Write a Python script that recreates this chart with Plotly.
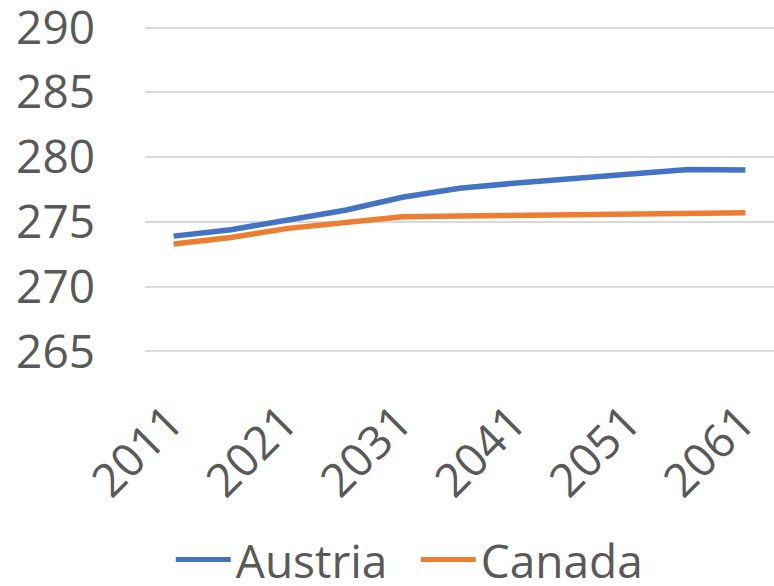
import plotly.graph_objects as go

years = [2011, 2016, 2021, 2026, 2031, 2036, 2041, 2046, 2051, 2056, 2061]
austria = [273.9, 274.4, 275.15, 275.9, 276.9, 277.6, 278.0, 278.35, 278.7, 279.05, 279.0]
canada = [273.3, 273.8, 274.5, 275.0, 275.4, 275.45, 275.5, 275.6, 275.7, 275.75, 275.7]
y_ticks = [265, 270, 275, 280, 285, 290]
x_ticks = [2011, 2021, 2031, 2041, 2051, 2061]

FONT = "Open Sans"
TXT = "#595959"

fig = go.Figure()
fig.add_trace(go.Scatter(x=years, y=austria, mode="lines", name="Austria",
                         line=dict(color="#4472C4", width=5.5)))
fig.add_trace(go.Scatter(x=years, y=canada, mode="lines", name="Canada",
                         line=dict(color="#ED7D31", width=5.5)))

fig.update_layout(
    width=774, height=586,
    margin=dict(l=145, r=0, t=26, b=233, autoexpand=False),
    paper_bgcolor="white", plot_bgcolor="white",
    font=dict(family=FONT, color=TXT, size=45),
    showlegend=True,
    legend=dict(orientation="h", x=0.041, xanchor="left", y=-0.632, yanchor="middle",
                font=dict(size=46, color=TXT), itemwidth=55, entrywidth=175,
                tracegroupgap=0, itemsizing="constant"),
)
fig.update_xaxes(range=[2008.5, 2063.5], tickvals=x_ticks, ticktext=[str(v) for v in x_ticks],
                 tickangle=-45, showgrid=False, zeroline=False, showline=False,
                 ticks="", tickfont=dict(size=46, color=TXT, family=FONT),
                 ticklabelstandoff=32, ticklabelshift=-4, ticklabeloverflow="allow")
fig.update_yaxes(range=[264.88, 290.12], tickvals=y_ticks, showgrid=True, gridcolor="#D9D9D9",
                 gridwidth=1.5, zeroline=False, showline=False, ticks="",
                 tickfont=dict(size=46, color=TXT, family=FONT), ticklabelstandoff=49,
                 ticklabeloverflow="allow")

fig.write_html("out.html", config={"displayModeBar": False},
               post_script="document.body.style.margin='0';document.body.style.overflow='hidden';")
